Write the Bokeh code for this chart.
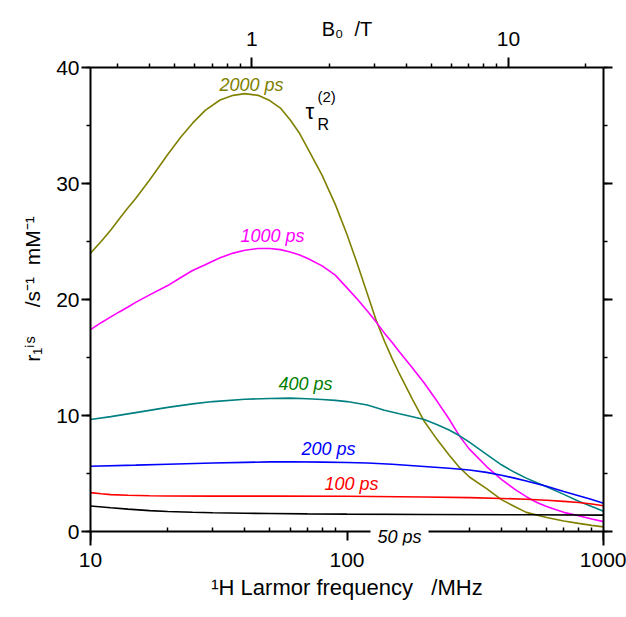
import math
from bokeh.plotting import figure
from bokeh.models import (Label, LogAxis, LinearAxis, Range1d, LogScale, FixedTicker,
                          SingleIntervalTicker, NumeralTickFormatter, CustomJSTickFormatter)
from bokeh.embed import file_html
from bokeh.resources import INLINE

# ---------------- data ----------------
MHZ_PER_T = 42.577   # 1H Larmor frequency per tesla

f_2000 = [10, 11, 12, 13, 14, 15, 17, 20, 22.5, 25, 28, 32, 36, 40, 45, 50, 55, 60, 65, 70, 80, 90, 100,
          110, 120, 130, 140, 150, 160, 180, 200, 225, 250, 275, 300, 350, 400, 450, 500, 600, 700, 800, 900, 1000]
r_2000 = [24.0, 25.0, 26.0, 27.0, 27.9, 28.7, 30.3, 32.5, 34.0, 35.2, 36.3, 37.2, 37.6, 37.75, 37.6, 37.15, 36.5,
          35.5, 34.4, 33.1, 30.7, 28.2, 25.6, 23.0, 20.5, 18.2, 16.4, 14.9, 13.6, 11.4, 9.5, 7.9, 6.6, 5.5, 4.7,
          3.7, 2.75, 2.15, 1.65, 1.2, 0.9, 0.7, 0.53, 0.4]

f_1000 = [10, 11, 12, 13, 14, 15, 17, 20, 22.5, 25, 28, 32, 36, 40, 45, 50, 55, 60, 65, 70, 80, 90, 100,
          110, 120, 130, 140, 150, 160, 180, 200, 225, 250, 275, 300, 350, 400, 450, 500, 550, 600, 700, 800, 900, 1000]
r_1000 = [17.4, 18.0, 18.5, 18.95, 19.35, 19.75, 20.4, 21.2, 21.9, 22.5, 23.0, 23.6, 24.0, 24.25, 24.4, 24.4, 24.3,
          24.1, 23.85, 23.55, 22.9, 22.1, 21.0, 20.0, 19.0, 18.05, 17.1, 16.3, 15.5, 14.1, 12.8, 11.2, 9.7, 8.2,
          7.1, 5.6, 4.5, 3.65, 3.0, 2.5, 2.15, 1.65, 1.35, 1.08, 0.85]

f_400 = [10, 12, 15, 20, 25, 30, 40, 50, 60, 70, 80, 90, 100, 120, 140, 160, 180, 200, 225, 250, 275, 300,
         350, 400, 450, 500, 550, 600, 700, 800, 900, 1000]
r_400 = [9.66, 9.9, 10.25, 10.7, 11.0, 11.2, 11.4, 11.47, 11.5, 11.45, 11.38, 11.3, 11.2, 10.9, 10.45, 10.15,
         9.9, 9.65, 9.2, 8.75, 8.25, 7.7, 6.65, 5.75, 5.1, 4.6, 4.2, 3.85, 3.2, 2.6, 2.15, 1.75]

f_200 = [10, 15, 20, 30, 40, 50, 60, 80, 100, 120, 150, 200, 250, 300, 350, 400, 450, 500, 600, 700, 800, 900, 1000]
r_200 = [5.62, 5.72, 5.8, 5.9, 5.96, 6.0, 6.01, 5.98, 5.95, 5.9, 5.8, 5.6, 5.45, 5.3, 5.1, 4.85, 4.6, 4.35,
         3.9, 3.45, 3.08, 2.75, 2.43]

f_100 = [10, 11, 12, 14, 17, 20, 30, 50, 100, 200, 300, 400, 500, 600, 700, 800, 900, 1000]
r_100 = [3.35, 3.25, 3.18, 3.12, 3.08, 3.06, 3.05, 3.05, 3.04, 2.98, 2.92, 2.85, 2.78, 2.7, 2.6, 2.5, 2.37, 2.22]

f_50 = [10, 12, 14, 17, 20, 25, 30, 40, 50, 70, 100, 200, 500, 1000]
r_50 = [2.2, 2.05, 1.93, 1.8, 1.72, 1.66, 1.62, 1.57, 1.55, 1.52, 1.5, 1.47, 1.44, 1.41]

series = [
    ("2000 ps", f_2000, r_2000, "#808000", "#808000"),
    ("1000 ps", f_1000, r_1000, "#FF00FF", "#FF00FF"),
    ("400 ps", f_400, r_400, "#008080", "#008000"),
    ("200 ps", f_200, r_200, "#0000FF", "#0000FF"),
    ("100 ps", f_100, r_100, "#FF0000", "#FF0000"),
    ("50 ps", f_50, r_50, "#000000", "#000000"),
]

x_major = [10, 100, 1000]
x_minor = [20, 30, 40, 50, 60, 70, 80, 90, 200, 300, 400, 500, 600, 700, 800, 900]
b_major = [1, 10]
b_minor = [0.3, 0.4, 0.5, 0.6, 0.7, 0.8, 0.9, 2, 3, 4, 5, 6, 7, 8, 9, 20]

# ---------------- geometry ----------------
W, H = 626, 617
AX_L, AX_R, AX_T, AX_B = 90, 603, 67, 531      # pixel position of the four axis lines
EXT = 14                                       # frame continues a little below the x axis
UNIT = (AX_B - AX_T) / 40.0
ML, MR, MT, MB = AX_L, W - AX_R, AX_T, H - (AX_B + EXT)

p = figure(width=W, height=H, x_axis_type="log", x_range=Range1d(10, 1000),
           y_range=Range1d(-EXT / UNIT, 40),
           output_backend="svg", toolbar_location=None,
           min_border_left=ML, min_border_right=MR, min_border_top=MT, min_border_bottom=MB)
p.xgrid.visible = False
p.ygrid.visible = False
p.outline_line_color = None
p.background_fill_color = "white"
p.border_fill_color = "white"

FONT = "Liberation Sans"
NB = "\u00a0"
BLANK = CustomJSTickFormatter(code="return ''")

def style_axis(ax, tick_out, minor_in, minor_out, standoff):
    ax.axis_line_width = 2
    ax.axis_line_color = "black"
    ax.major_tick_line_width = 2
    ax.minor_tick_line_width = 1.5
    ax.major_tick_in = 0
    ax.major_tick_out = tick_out
    ax.minor_tick_in = minor_in
    ax.minor_tick_out = minor_out
    ax.major_label_standoff = standoff
    ax.major_label_text_font = FONT
    ax.major_label_text_font_size = "21px"
    ax.major_label_text_color = "black"
    ax.axis_label_text_font = FONT
    ax.axis_label_text_font_style = "normal"
    ax.axis_label_text_color = "black"

# x axis line + ticks, pinned at r = 0
xa = p.xaxis[0]
xa.ticker = FixedTicker(ticks=x_major, minor_ticks=x_minor)
xa.formatter = BLANK
xa.fixed_location = 0
style_axis(xa, 9, 4, 0, 0)

# x tick labels and title
xb = LogAxis(ticker=FixedTicker(ticks=x_major, minor_ticks=[]), formatter=NumeralTickFormatter(format="0"))
style_axis(xb, 0, 0, 0, 7)
xb.axis_line_color = None
xb.major_tick_line_color = None
xb.minor_tick_line_color = None
xb.axis_label = "\u00b9H Larmor frequency" + NB * 3 + "/MHz"
xb.axis_label_text_font_size = "22px"
xb.axis_label_standoff = 5
p.add_layout(xb, "below")

ya = p.yaxis[0]
ya.ticker = SingleIntervalTicker(interval=10, num_minor_ticks=2)
style_axis(ya, 9, 0, 4, 2)
ya.axis_label = (NB * 6 + "r\u2081\u2071\u02e2" + NB * 5 + "/s\u207b\u00b9" + NB * 2 + "mM\u207b\u00b9")
ya.axis_label_text_font_size = "21px"
ya.axis_label_standoff = 9

p.extra_x_ranges = {"B": Range1d(10 / MHZ_PER_T, 1000 / MHZ_PER_T)}
p.extra_x_scales = {"B": LogScale()}
top = LogAxis(x_range_name="B", ticker=FixedTicker(ticks=b_major, minor_ticks=b_minor),
              formatter=NumeralTickFormatter(format="0"))
style_axis(top, 10, 0, 4, 12)
top.axis_label = "B\u2080" + NB * 2 + "/T"
top.axis_label_text_font_size = "20px"
top.axis_label_standoff = -11
p.add_layout(top, "above")

right = LinearAxis(ticker=SingleIntervalTicker(interval=10, num_minor_ticks=2), formatter=BLANK)
style_axis(right, 9, 0, 4, 0)
p.add_layout(right, "right")

for name, fx, ry, lc, tc in series:
    p.line(fx, ry, line_color=lc, line_width=1.6)

# ---------------- annotations (positions in pixels -> data) ----------------
def at(X, Y):
    fx = 10 * 10 ** (2 * (X - AX_L) / (AX_R - AX_L))
    vy = (AX_B - Y) / UNIT
    return fx, vy

def lab(text, X, Y, size, color="black", style="normal", align="left", baseline="alphabetic", **kw):
    x, y = at(X, Y)
    p.add_layout(Label(x=x, y=y, text=text, text_font=FONT, text_font_size=f"{size}px",
                       text_color=color, text_font_style=style, text_align=align,
                       text_baseline=baseline, **kw))

label_pos = {"2000 ps": (251, 84), "1000 ps": (272, 235), "400 ps": (305, 383),
             "200 ps": (328, 448), "100 ps": (351, 483), "50 ps": (399, 536)}
for name, fx, ry, lc, tc in series:
    X, Y = label_pos[name]
    if name == "50 ps":
        lab(name, X, Y, 18, color=tc, style="italic", align="center", baseline="middle",
            background_fill_color="white", padding=7)
    else:
        lab(name, X, Y, 18, color=tc, style="italic", align="center", baseline="middle")

# tau_R^(2)
lab("\u03c4", 305, 111, 22)
lab("R", 317, 124, 16)
lab("(2)", 317, 96, 15)

open("out.html", "w").write(file_html(p, INLINE))
